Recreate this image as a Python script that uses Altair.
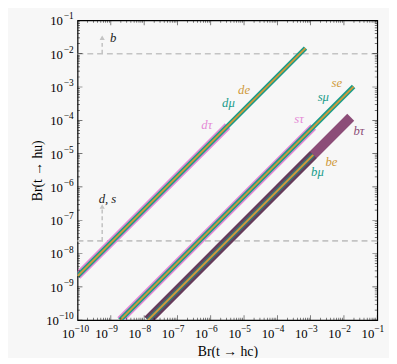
import altair as alt
import pandas as pd

# ---- data ----
seg_names = ["dτ", "dμ", "de", "sτ", "sμ", "se", "bτ", "bμ", "be"]
seg_x0 = [1e-10, 1e-10, 1e-10, 1.9e-9, 1.9e-9, 1.9e-9, 1.3e-8, 1.3e-8, 1.3e-8]
seg_x1 = [3.2e-6, 7e-4, 7e-4, 1.2e-3, 1.95e-2, 1.95e-2, 1.6e-2, 1.2e-3, 1.2e-3]
seg_y0 = [2.1e-9, 2.1e-9, 2.1e-9, 1e-10, 1e-10, 1e-10, 1e-10, 1e-10, 1e-10]
seg_y1 = [6.7e-5, 1.47e-2, 1.47e-2, 6.3e-5, 1.03e-3, 1.03e-3, 1.23e-4, 9.2e-6, 9.2e-6]

lab_text = ["de", "dμ", "dτ", "se", "sμ", "sτ", "bτ", "be", "bμ"]
lab_x = [1e-5, 3.4e-6, 7.6e-7, 6.1e-3, 2.4e-3, 4.5e-4, 2.8e-2, 4.2e-3, 1.6e-3]
lab_y = [8.1e-4, 3.2e-4, 7.1e-5, 1.3e-3, 5.1e-4, 1.07e-4, 4.8e-5, 5.6e-6, 2.7e-6]

limit_y = [1e-2, 2.4e-8]
arrow_x = [5.5e-10, 5.5e-10]
arrow_top = [3.0e-2, 2.6e-7]
note_text = ["b", "d, s"]
note_x = [9.5e-10, 4.3e-10]
note_y = [3.0e-2, 4.2e-7]

exponents = list(range(-10, 0))          # -10 ... -1
decades = [10.0 ** e for e in exponents]
exp_text = ["−" + str(-e) for e in exponents]

# ---- styles ----
PINK = "#e58ad6"
TEAL = "#179c8a"
ORANGE = "#d09a3a"
PURPLE = "#8c4d78"
style = {
    "dτ": [(PINK, 8, 1)], "dμ": [(TEAL, 5, 1)], "de": [(ORANGE, 2, 1)],
    "sτ": [(PINK, 8, 1)], "sμ": [(TEAL, 5, 1)], "se": [(ORANGE, 2, 1)],
    "bτ": [(PURPLE, 10, 1)],
    "bμ": [("#2e2430", 10, 0.4), (TEAL, 5, 0.55)],
    "be": [(ORANGE, 2, 1)],
}

def label_color(t):
    if t.endswith("τ"):
        return PURPLE if t.startswith("b") else PINK
    if t.endswith("μ"):
        return TEAL
    return ORANGE

FONT = "Liberation Serif"
W = H = 306
dom = [1e-10, 1e-1]

xs = alt.Scale(type="log", domain=dom)
ys = alt.Scale(type="log", domain=dom)

seg_rows = []
for n, a, b, c, d in zip(seg_names, seg_x0, seg_x1, seg_y0, seg_y1):
    seg_rows.append({"name": n, "x": a, "y": c})
    seg_rows.append({"name": n, "x": b, "y": d})
seg_df = pd.DataFrame(seg_rows)

layers = []

# base layer carrying the axis titles
base = alt.Chart(pd.DataFrame({"x": decades, "y": decades})).mark_point(opacity=0).encode(
    x=alt.X("x:Q", scale=xs, title="Br(t → hc)",
            axis=alt.Axis(labels=False, ticks=False, domain=False, grid=False,
                          titleFont=FONT, titleFontSize=14, titleFontWeight="normal",
                          titleColor="black", titlePadding=25)),
    y=alt.Y("y:Q", scale=ys, title="Br(t → hu)",
            axis=alt.Axis(labels=False, ticks=False, domain=False, grid=False,
                          titleFont=FONT, titleFontSize=14, titleFontWeight="normal",
                          titleColor="black", titlePadding=34)),
)
layers.append(base)

# tick labels as 10 + superscript exponent
tl = pd.DataFrame({"v": decades, "e": exp_text,
                   "wide": [len(s) > 2 for s in exp_text]})
layers.append(alt.Chart(tl).mark_text(font=FONT, fontSize=13, align="right", baseline="middle",
                                     dx=-3, color="black").encode(
    x=alt.X("v:Q", scale=xs), y=alt.value(H + 14), text=alt.value("10")))
layers.append(alt.Chart(tl).mark_text(font=FONT, fontSize=9.5, align="left", baseline="middle",
                                     dx=-3, color="black").encode(
    x=alt.X("v:Q", scale=xs), y=alt.value(H + 9), text="e:N"))
layers.append(alt.Chart(tl).mark_text(font=FONT, fontSize=9.5, align="right", baseline="middle",
                                     dy=-4, color="black").encode(
    y=alt.Y("v:Q", scale=ys), x=alt.value(-4), text="e:N"))
layers.append(alt.Chart(tl[~tl.wide]).mark_text(font=FONT, fontSize=13, align="right", baseline="middle",
                                               dy=1, color="black").encode(
    y=alt.Y("v:Q", scale=ys), x=alt.value(-15), text=alt.value("10")))
layers.append(alt.Chart(tl[tl.wide]).mark_text(font=FONT, fontSize=13, align="right", baseline="middle",
                                              dy=1, color="black").encode(
    y=alt.Y("v:Q", scale=ys), x=alt.value(-19), text=alt.value("10")))

# dashed limit lines with arrows
lim_df = pd.DataFrame({"y": limit_y})
layers.append(alt.Chart(lim_df).mark_rule(color="#c4c4c4", strokeDash=[6, 4], strokeWidth=1.6).encode(
    y=alt.Y("y:Q", scale=ys), x=alt.value(0), x2=alt.value(W)))

arr_df = pd.DataFrame({"x": arrow_x, "y": limit_y, "y2": arrow_top})
layers.append(alt.Chart(arr_df).mark_rule(color="#c4c4c4", strokeDash=[4, 3], strokeWidth=1.6).encode(
    x=alt.X("x:Q", scale=xs), y=alt.Y("y:Q", scale=ys), y2="y2:Q"))
layers.append(alt.Chart(arr_df).mark_point(shape="triangle-up", filled=True, color="#c4c4c4",
                                           opacity=1, size=28).encode(
    x=alt.X("x:Q", scale=xs), y=alt.Y("y2:Q", scale=ys)))

# branching-ratio lines (drawn in order)
for n in ["bτ", "bμ", "be", "sτ", "sμ", "se", "dτ", "dμ", "de"]:
    for col, w, op in style[n]:
        layers.append(alt.Chart(seg_df[seg_df.name == n]).mark_line(
            color=col, strokeWidth=w, opacity=op, clip=True, strokeCap="butt").encode(
            x=alt.X("x:Q", scale=xs), y=alt.Y("y:Q", scale=ys)))

# line labels
lab_df = pd.DataFrame({"t": lab_text, "x": lab_x, "y": lab_y,
                       "c": [label_color(t) for t in lab_text]})
layers.append(alt.Chart(lab_df).mark_text(font=FONT, fontStyle="italic", fontSize=13).encode(
    x=alt.X("x:Q", scale=xs), y=alt.Y("y:Q", scale=ys), text="t:N",
    color=alt.Color("c:N", scale=None)))

note_df = pd.DataFrame({"t": note_text, "x": note_x, "y": note_y})
layers.append(alt.Chart(note_df).mark_text(font=FONT, fontStyle="italic", fontSize=13,
                                          color="#222", align="left").encode(
    x=alt.X("x:Q", scale=xs), y=alt.Y("y:Q", scale=ys), text="t:N"))

# inner ticks on all four sides (major and minor)
minor = [m * 10.0 ** e for e in range(-10, -1) for m in range(2, 10)]
tick_vals = decades + minor
tick_len = [10] * len(decades) + [5] * len(minor)
xt = pd.DataFrame({"v": tick_vals * 2, "len": tick_len * 2,
                   "edge": [1e-10] * len(tick_vals) + [1e-1] * len(tick_vals)})
layers.append(alt.Chart(xt).mark_tick(orient="vertical", clip=True, thickness=0.7, color="black").encode(
    x=alt.X("v:Q", scale=xs), y=alt.Y("edge:Q", scale=ys), size=alt.Size("len:Q", scale=None)))
layers.append(alt.Chart(xt).mark_tick(orient="horizontal", clip=True, thickness=0.7, color="black").encode(
    y=alt.Y("v:Q", scale=ys), x=alt.X("edge:Q", scale=xs), size=alt.Size("len:Q", scale=None)))

chart = alt.layer(*layers).properties(
    width=W, height=H,
    autosize=alt.AutoSizeParams(type="none"),
    padding={"left": 71, "top": 9, "right": 12, "bottom": 35},
    background="#f7f7f7",
).configure_view(stroke="black", strokeWidth=1.2, fill="#f7f7f7")

chart.save("out.html", embed_options={"renderer": "svg", "actions": False})
